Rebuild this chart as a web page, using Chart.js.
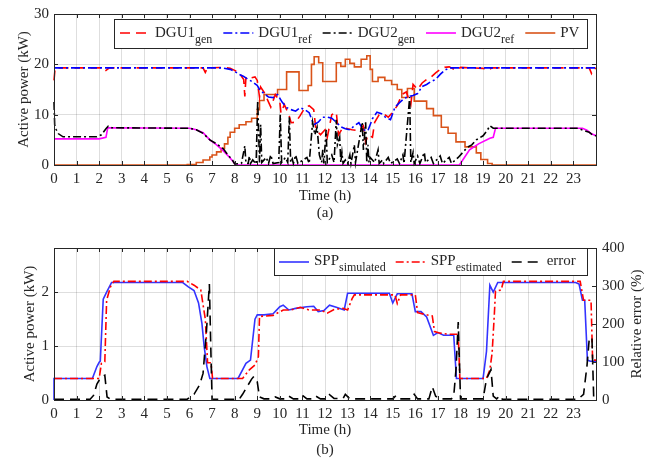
<!DOCTYPE html>
<html><head><meta charset="utf-8">
<script src="https://cdn.jsdelivr.net/npm/chart.js@4/dist/chart.umd.min.js"></script>
<style>
html,body{margin:0;padding:0;background:#fff;}
#wrap{position:relative;width:656px;height:462px;overflow:hidden;}
#c1{position:absolute;left:0;top:0;}
#c2{position:absolute;left:0;top:225px;}
</style></head><body>
<div id="wrap">
<canvas id="c1" width="656" height="225"></canvas>
<canvas id="c2" width="656" height="237"></canvas>
</div>
<script>
// ---------- data (a) ----------
const hourLabels = ['0','1','2','3','4','5','6','7','8','9','10','11','12','13','14','15','16','17','18','19','20','21','22','23'];

const dgu1GenTime = [0, 0.05, 2.2, 2.3, 2.45, 6.6, 6.7, 6.8, 7.5, 7.8, 8.0, 8.2, 8.4, 8.45, 8.5, 8.7, 8.9, 9.0, 9.1, 9.15, 9.3, 9.5, 9.6, 9.8, 10.0, 10.05, 10.2, 10.4, 10.5, 10.7, 10.9, 11.1, 11.3, 11.5, 11.6, 11.8, 12.0, 12.1, 12.3, 12.5, 12.6, 12.8, 13.0, 13.2, 13.5, 13.7, 13.8, 13.9, 14.1, 14.2, 14.4, 14.6, 14.8, 15.0, 15.2, 15.4, 15.6, 15.8, 15.9, 16.1, 16.3, 16.5, 16.7, 16.9, 17.1, 17.3, 17.5, 17.8, 18.0, 19.0, 19.2, 19.4, 23.7, 23.8, 23.9, 24];
const dgu1GenPower = [16.8, 19.3, 19.3, 18.8, 19.3, 19.3, 18.4, 19.3, 19.4, 19.2, 18.8, 18.3, 17.0, 13.6, 17.5, 17.3, 17.5, 16.8, 13.5, 15.5, 14.5, 12.5, 11.5, 14.0, 12.6, 10.3, 12.0, 10.0, 8.4, 8.5, 9.8, 11.3, 11.8, 11.0, 7.0, 6.0, 7.0, 5.5, 10.0, 10.5, 6.0, 7.5, 7.2, 7.0, 6.8, 7.8, 4.5, 6.0, 5.5, 8.5, 10.0, 10.2, 9.5, 10.5, 11.8, 14.0, 14.5, 12.0, 16.0, 15.0, 16.3, 17.0, 17.5, 18.3, 19.0, 19.4, 19.5, 18.8, 19.4, 19.2, 18.8, 19.3, 19.3, 18.2, 19.2, 19.2];

const dgu1RefTime = [0, 7.4, 7.8, 8.0, 8.2, 8.4, 8.6, 8.8, 9.0, 9.1, 9.3, 9.5, 9.7, 9.9, 10.1, 10.3, 10.5, 10.7, 10.9, 11.1, 11.3, 11.5, 11.7, 11.9, 12.1, 12.3, 12.5, 12.7, 12.9, 13.1, 13.3, 13.5, 13.7, 13.9, 14.1, 14.3, 14.5, 14.7, 14.9, 15.1, 15.3, 15.5, 15.7, 15.9, 16.1, 16.3, 16.5, 16.7, 16.9, 17.1, 17.3, 17.5, 24];
const dgu1RefPower = [19.3, 19.3, 19.0, 18.6, 18.0, 17.6, 17.0, 16.5, 15.8, 15.0, 14.2, 13.5, 13.4, 14.0, 12.5, 11.4, 11.0, 10.7, 11.4, 11.0, 10.4, 8.0, 8.5, 9.5, 9.5, 9.3, 8.5, 7.6, 7.2, 7.0, 7.8, 8.4, 7.0, 6.8, 9.2, 10.5, 10.2, 9.4, 9.0, 11.5, 12.4, 13.2, 13.6, 13.8, 14.2, 15.6, 16.0, 16.6, 17.0, 18.0, 18.8, 19.3, 19.3];

const dgu2GenTime = [0, 0.03, 0.1, 0.2, 0.4, 1.9, 2.1, 2.3, 2.4, 2.55, 6.0, 6.3, 6.6, 6.9, 7.2, 7.5, 7.7, 7.9, 8.0, 8.3, 8.45, 8.5, 8.6, 8.65, 8.7, 8.8, 8.95, 9.02, 9.1, 9.15, 9.2, 9.4, 9.5, 9.6, 9.7, 9.95, 10.02, 10.08, 10.25, 10.35, 10.42, 10.48, 10.55, 10.6, 10.7, 10.8, 11.2, 11.3, 11.45, 11.55, 11.65, 11.75, 11.85, 11.9, 11.95, 12.05, 12.1, 12.3, 12.4, 12.5, 12.55, 12.65, 12.7, 12.75, 12.8, 12.9, 13.0, 13.1, 13.15, 13.3, 13.35, 13.65, 13.7, 13.8, 13.85, 13.9, 13.95, 14.0, 14.2, 14.35, 14.4, 14.55, 14.6, 14.8, 14.9, 15.2, 15.3, 15.45, 15.5, 15.75, 15.8, 15.9, 15.95, 16.1, 16.2, 16.4, 16.45, 16.7, 16.8, 17.1, 17.2, 17.5, 17.6, 17.9, 18.1, 18.3, 18.5, 18.7, 19.0, 19.2, 19.3, 19.45, 23.2, 23.5, 23.7, 23.9, 24];
const dgu2GenPower = [12.5, 8.0, 7.0, 6.2, 5.6, 5.6, 6.0, 7.2, 7.7, 7.4, 7.3, 7.0, 6.3, 5.0, 4.2, 3.2, 2.0, 1.0, 0.2, 0.3, 3.8, 0.3, 0.3, 1.8, 0.3, 1.0, 0.2, 12.8, 0.5, 8.0, 0.5, 1.5, 0.3, 2.0, 0.3, 0.5, 10.0, 0.5, 1.5, 0.5, 9.5, 0.5, 1.2, 0.3, 2.0, 0.3, 1.5, 0.3, 8.5, 6.0, 7.5, 2.0, 0.5, 3.0, 0.3, 7.0, 0.5, 2.0, 0.5, 9.0, 4.0, 5.5, 0.5, 2.5, 0.3, 1.0, 0.3, 2.0, 0.3, 4.0, 0.5, 8.5, 3.0, 8.5, 0.5, 4.0, 0.5, 1.5, 0.5, 3.0, 0.3, 1.0, 0.3, 1.5, 0.3, 1.2, 0.3, 2.0, 0.3, 13.5, 0.5, 2.5, 0.3, 1.8, 0.3, 2.5, 0.5, 1.5, 0.3, 1.8, 0.3, 1.5, 0.3, 1.5, 2.5, 3.5, 4.0, 5.0, 5.8, 7.0, 7.8, 7.3, 7.3, 6.8, 6.5, 5.8, 5.8];

const dgu2RefTime = [0, 2.0, 2.3, 2.38, 6.0, 6.3, 6.6, 6.9, 7.2, 7.5, 7.8, 8.05, 17.95, 18.1, 18.4, 18.8, 19.3, 19.45, 19.55, 23.4, 23.6, 23.8, 23.95, 24];
const dgu2RefPower = [5.2, 5.2, 5.5, 7.4, 7.3, 7.0, 6.4, 5.0, 4.0, 2.8, 1.4, 0, 0, 1.0, 3.0, 4.2, 5.3, 5.5, 7.3, 7.3, 6.9, 6.2, 5.9, 5.9];

const pvTime = [0, 5.9, 6.3, 6.6, 6.9, 7.0, 7.2, 7.4, 7.55, 7.7, 7.8, 8.0, 8.2, 8.5, 8.75, 9.0, 9.1, 9.3, 9.9, 10.3, 10.85, 11.25, 11.4, 11.52, 11.72, 11.9, 12.5, 12.7, 12.9, 13.1, 13.3, 13.6, 13.85, 14.0, 14.1, 14.35, 14.65, 14.95, 15.2, 15.4, 15.65, 15.95, 16.5, 16.8, 17.15, 17.45, 17.8, 18.2, 18.7, 18.9, 19.2, 19.4, 24];
const pvPower = [0, 0.1, 0.5, 1.0, 1.6, 2.0, 2.6, 3.3, 4.2, 5.5, 6.5, 7.3, 8.0, 8.6, 9.3, 11.0, 12.8, 14.0, 15.0, 18.5, 14.8, 15.8, 20.0, 21.5, 20.3, 16.6, 20.3, 19.6, 21.0, 20.2, 19.5, 21.0, 21.7, 19.0, 16.6, 17.4, 16.8, 16.0, 15.0, 13.4, 15.2, 12.7, 11.2, 9.8, 7.5, 6.3, 4.6, 3.6, 2.4, 1.1, 0.3, 0, 0];

const topLegendNames = ['DGU1', 'DGU1', 'DGU2', 'DGU2', 'PV'];
const topLegendSubs = ['gen', 'ref', 'gen', 'ref', ''];

// ---------- data (b) ----------
const sppSimTime = [0, 0, 1.7, 1.9, 2.0, 2.05, 2.18, 2.33, 2.55, 5.7, 5.95, 6.2, 6.4, 6.55, 6.65, 6.77, 6.9, 8.15, 8.5, 8.7, 8.9, 9.0, 9.3, 9.7, 10.0, 10.15, 10.4, 10.7, 11.2, 11.5, 11.7, 11.95, 12.2, 12.5, 12.85, 13.0, 14.85, 15.0, 15.2, 15.85, 16.0, 16.25, 16.5, 16.8, 17.0, 17.25, 17.7, 17.82, 19.0, 19.15, 19.3, 19.45, 19.65, 23.1, 23.25, 23.4, 23.5, 23.62, 23.75, 24];
const sppSimPower = [0, 0.4, 0.4, 0.62, 0.7, 0.72, 1.87, 2.0, 2.18, 2.18, 2.1, 2.03, 1.8, 1.42, 0.99, 0.62, 0.4, 0.4, 0.68, 0.74, 1.5, 1.58, 1.58, 1.6, 1.73, 1.76, 1.67, 1.70, 1.73, 1.74, 1.64, 1.66, 1.76, 1.72, 1.67, 1.98, 1.98, 1.8, 1.97, 1.97, 1.64, 1.64, 1.54, 1.2, 1.25, 1.2, 1.2, 0.4, 0.4, 0.9, 2.13, 2.0, 2.18, 2.18, 2.15, 1.85, 1.85, 0.74, 0.72, 0.72];

const sppEstTime = [0, 2.0, 2.1, 2.25, 2.33, 2.5, 2.65, 5.9, 6.2, 6.5, 6.7, 6.8, 6.95, 7.02, 8.35, 8.65, 8.9, 9.05, 9.1, 9.7, 10.15, 10.5, 10.9, 11.3, 11.8, 12.1, 12.4, 12.8, 13.0, 13.2, 13.3, 15.1, 15.2, 15.35, 16.0, 16.1, 16.5, 16.75, 16.85, 17.1, 17.5, 17.9, 17.97, 19.15, 19.3, 19.4, 19.5, 19.55, 19.8, 19.9, 23.3, 23.45, 23.78, 23.85, 24];
const sppEstPower = [0.4, 0.4, 0.68, 0.71, 1.85, 2.1, 2.2, 2.2, 2.13, 2.04, 1.5, 0.69, 0.69, 0.4, 0.4, 0.56, 0.65, 0.8, 1.55, 1.57, 1.67, 1.67, 1.72, 1.67, 1.67, 1.61, 1.68, 1.70, 1.67, 1.88, 1.95, 1.95, 1.79, 1.95, 1.95, 1.62, 1.58, 1.56, 1.27, 1.24, 1.22, 1.22, 0.4, 0.4, 0.56, 0.87, 1.6, 2.02, 2.04, 2.2, 2.2, 1.85, 1.85, 0.74, 0.74];

const errTime = [0, 1.6, 1.75, 1.9, 2.0, 2.15, 2.25, 2.35, 2.5, 5.9, 6.2, 6.45, 6.6, 6.75, 6.88, 6.95, 7.0, 8.2, 8.35, 8.55, 8.75, 8.85, 9.0, 9.1, 9.3, 9.7, 9.8, 10.0, 10.3, 10.4, 10.6, 10.9, 11.0, 11.2, 11.5, 11.6, 11.8, 12.1, 12.2, 12.4, 12.8, 12.9, 13.1, 15.0, 15.15, 15.3, 15.85, 15.95, 16.1, 16.6, 16.75, 16.9, 17.1, 17.6, 17.7, 17.8, 17.9, 18.0, 19.0, 19.15, 19.35, 19.45, 19.6, 19.75, 19.85, 23.2, 23.45, 23.6, 23.7, 23.82, 23.9, 24];
const errPct = [2, 2, 12, 42, 52, 62, 65, 8, 2, 2, 15, 40, 70, 180, 305, 120, 2, 2, 15, 35, 55, 62, 48, 8, 3, 3, 8, 3, 3, 10, 3, 3, 12, 3, 3, 10, 3, 3, 14, 4, 4, 15, 3, 3, 12, 3, 3, 15, 3, 3, 35, 10, 3, 3, 10, 80, 205, 3, 3, 55, 80, 10, 3, 12, 2, 2, 15, 90, 160, 165, 3, 3];

const botLegendNames = ['SPP', 'SPP', 'error'];
const botLegendSubs = ['simulated', 'estimated', ''];

// ---------- helpers ----------
const FONT = "'Liberation Serif', 'Times New Roman', serif";
const INK = '#262626';
const GRID = 'rgba(0,0,0,0.13)';
const pts = (t, v) => t.map((x, i) => ({x, y: v[i]}));

const framePlugin = {
  id: 'frame',
  afterDatasetsDraw(chart, args, o) {
    const {ctx, chartArea: a} = chart;
    const L = o.len || 4;
    ctx.save();
    ctx.strokeStyle = INK; ctx.lineWidth = 1; ctx.setLineDash([]);
    ctx.beginPath();
    const xs = chart.scales.x;
    xs.ticks.forEach(t => {
      const px = Math.round(xs.getPixelForValue(t.value)) + 0.5;
      ctx.moveTo(px, a.top); ctx.lineTo(px, a.top + L);
      ctx.moveTo(px, a.bottom); ctx.lineTo(px, a.bottom - L);
    });
    const yl = chart.scales.y;
    yl.ticks.forEach(t => {
      if (!Number.isInteger(t.value / (o.leftStep || 1))) return;
      const py = Math.round(yl.getPixelForValue(t.value)) + 0.5;
      ctx.moveTo(a.left, py); ctx.lineTo(a.left + L, py);
      if (!o.rightScale) { ctx.moveTo(a.right, py); ctx.lineTo(a.right - L, py); }
    });
    if (o.rightScale) {
      const yr = chart.scales[o.rightScale];
      yr.ticks.forEach(t => {
        const py = Math.round(yr.getPixelForValue(t.value)) + 0.5;
        ctx.moveTo(a.right, py); ctx.lineTo(a.right - L, py);
      });
    }
    ctx.stroke();
    ctx.strokeRect(Math.round(a.left) + 0.5, Math.round(a.top) + 0.5, Math.round(a.right - a.left), Math.round(a.bottom - a.top));
    ctx.restore();
  }
};

const subLegend = {
  id: 'subLegend',
  afterDraw(chart, args, o) {
    if (!o.box) return;
    const {ctx} = chart;
    const [bx, by, bw, bh] = o.box;
    ctx.save();
    ctx.fillStyle = '#fff'; ctx.fillRect(bx, by, bw, bh);
    ctx.strokeStyle = INK; ctx.lineWidth = 1; ctx.setLineDash([]);
    ctx.strokeRect(bx + 0.5, by + 0.5, bw, bh);
    let x = bx + o.pad;
    chart.data.datasets.forEach((ds, i) => {
      ctx.beginPath(); ctx.setLineDash(ds.borderDash || []);
      ctx.strokeStyle = ds.borderColor; ctx.lineWidth = ds.borderWidth;
      ctx.moveTo(x, by + o.lineDy); ctx.lineTo(x + o.sample, by + o.lineDy); ctx.stroke();
      x += o.sample + o.gap;
      ctx.setLineDash([]); ctx.fillStyle = INK; ctx.textBaseline = 'alphabetic'; ctx.textAlign = 'left';
      ctx.font = o.size + 'px ' + FONT;
      ctx.fillText(o.names[i], x, by + o.baseDy);
      x += ctx.measureText(o.names[i]).width;
      if (o.subs[i]) {
        ctx.font = o.subSize + 'px ' + FONT;
        ctx.fillText(o.subs[i], x, by + o.baseDy + o.subDy);
        x += ctx.measureText(o.subs[i]).width;
      }
      x += o.spacing;
    });
    ctx.restore();
  }
};

const extraText = {
  id: 'extraText',
  afterDraw(chart, args, o) {
    const {ctx} = chart;
    (o.items || []).forEach(it => {
      ctx.save();
      ctx.fillStyle = INK; ctx.font = it.size + 'px ' + FONT;
      ctx.textAlign = 'center'; ctx.textBaseline = 'middle';
      ctx.translate(it.x, it.y);
      if (it.rot) ctx.rotate(it.rot);
      ctx.fillText(it.text, 0, 0);
      ctx.restore();
    });
  }
};

const tickFont = {family: FONT, size: 15};
function xScale(titlePadBottom, height) {
  return {
    type: 'linear', min: 0, max: 24,
    ticks: {stepSize: 1, autoSkip: false, maxRotation: 0, color: INK, font: tickFont, padding: 5,
      callback: v => (v < 24 ? hourLabels[v] : '')},
    grid: {color: GRID, drawTicks: false},
    border: {display: true, color: INK},
    title: {display: true, text: 'Time (h)', color: INK, font: {family: FONT, size: 15}, padding: {top: 0, bottom: titlePadBottom}},
    afterFit: s => { s.height = height; }
  };
}
function lineDs(t, v, color, dash, order, extra) {
  return Object.assign({data: pts(t, v), borderColor: color, borderDash: dash, borderWidth: 1.6,
    pointRadius: 0, tension: 0, fill: false, clip: false, order}, extra || {});
}

// ---------- chart (a) ----------
new Chart(document.getElementById('c1'), {
  type: 'line',
  data: {datasets: [
    lineDs(dgu1GenTime, dgu1GenPower, '#ff0000', [10, 6], 3),
    lineDs(dgu1RefTime, dgu1RefPower, '#0000ff', [9, 3, 2, 3], 2),
    lineDs(dgu2GenTime, dgu2GenPower, '#000000', [8, 3, 2, 3], 1),
    lineDs(dgu2RefTime, dgu2RefPower, '#ff00ff', [], 4),
    lineDs(pvTime, pvPower, '#D95319', [], 5, {stepped: true})
  ]},
  options: {
    responsive: false, animation: false, events: [],
    layout: {padding: {top: 12, right: 60, left: 0, bottom: 0}},
    plugins: {
      legend: {display: false}, tooltip: {enabled: false},
      frame: {len: 4},
      subLegend: {box: [114, 19, 473, 29], pad: 6, sample: 30, gap: 5, spacing: 11, lineDy: 14, baseDy: 18, subDy: 6,
        size: 15, subSize: 12, names: topLegendNames, subs: topLegendSubs},
      extraText: {items: [{text: '(a)', x: 325, y: 213, size: 15}]}
    },
    scales: {
      x: xScale(20, 60),
      y: {
        min: 0, max: 30,
        ticks: {stepSize: 10, color: INK, font: tickFont, padding: 5},
        grid: {color: GRID, drawTicks: false},
        border: {display: true, color: INK},
        title: {display: true, text: 'Active power (kW)', color: INK, font: {family: FONT, size: 15}, padding: {top: 15, bottom: 0}},
        afterFit: s => { s.width = 54; }
      }
    }
  },
  plugins: [framePlugin, subLegend, extraText]
});

// ---------- chart (b) ----------
new Chart(document.getElementById('c2'), {
  type: 'line',
  data: {datasets: [
    lineDs(sppSimTime, sppSimPower, '#3333ff', [], 3, {yAxisID: 'y'}),
    lineDs(sppEstTime, sppEstPower, '#ff0000', [8, 3, 2, 3], 2, {yAxisID: 'y'}),
    lineDs(errTime, errPct, '#000000', [10, 6], 1, {yAxisID: 'y2'})
  ]},
  options: {
    responsive: false, animation: false, events: [],
    layout: {padding: {top: 23, right: 0, left: 0, bottom: 0}},
    plugins: {
      legend: {display: false}, tooltip: {enabled: false},
      frame: {len: 4, rightScale: 'y2', leftStep: 1},
      subLegend: {box: [274, 23, 313, 27], pad: 5, sample: 30, gap: 5, spacing: 10, lineDy: 14, baseDy: 17, subDy: 6,
        size: 15, subSize: 12, names: botLegendNames, subs: botLegendSubs},
      extraText: {items: [
        {text: '(b)', x: 325, y: 225, size: 15},
        {text: 'Relative error (%)', x: 637, y: 99, size: 15, rot: -Math.PI / 2}
      ]}
    },
    scales: {
      x: xScale(23, 62),
      y: {
        position: 'left', min: 0, max: 2.82,
        ticks: {stepSize: 1, color: INK, font: tickFont, padding: 5,
          callback: v => (Number.isInteger(v) ? String(v) : '')},
        grid: {color: c => (Number.isInteger(c.tick.value) ? GRID : 'rgba(0,0,0,0)'), drawTicks: false},
        border: {display: true, color: INK},
        title: {display: true, text: 'Active power (kW)', color: INK, font: {family: FONT, size: 15}, padding: {top: 21, bottom: 0}},
        afterFit: s => { s.width = 54; }
      },
      y2: {
        position: 'right', min: 0, max: 400,
        ticks: {stepSize: 100, color: INK, font: tickFont, padding: 6},
        grid: {drawOnChartArea: false, drawTicks: false},
        border: {display: true, color: INK},
        afterFit: s => { s.width = 60; }
      }
    }
  },
  plugins: [framePlugin, subLegend, extraText]
});
</script>
</body></html>
